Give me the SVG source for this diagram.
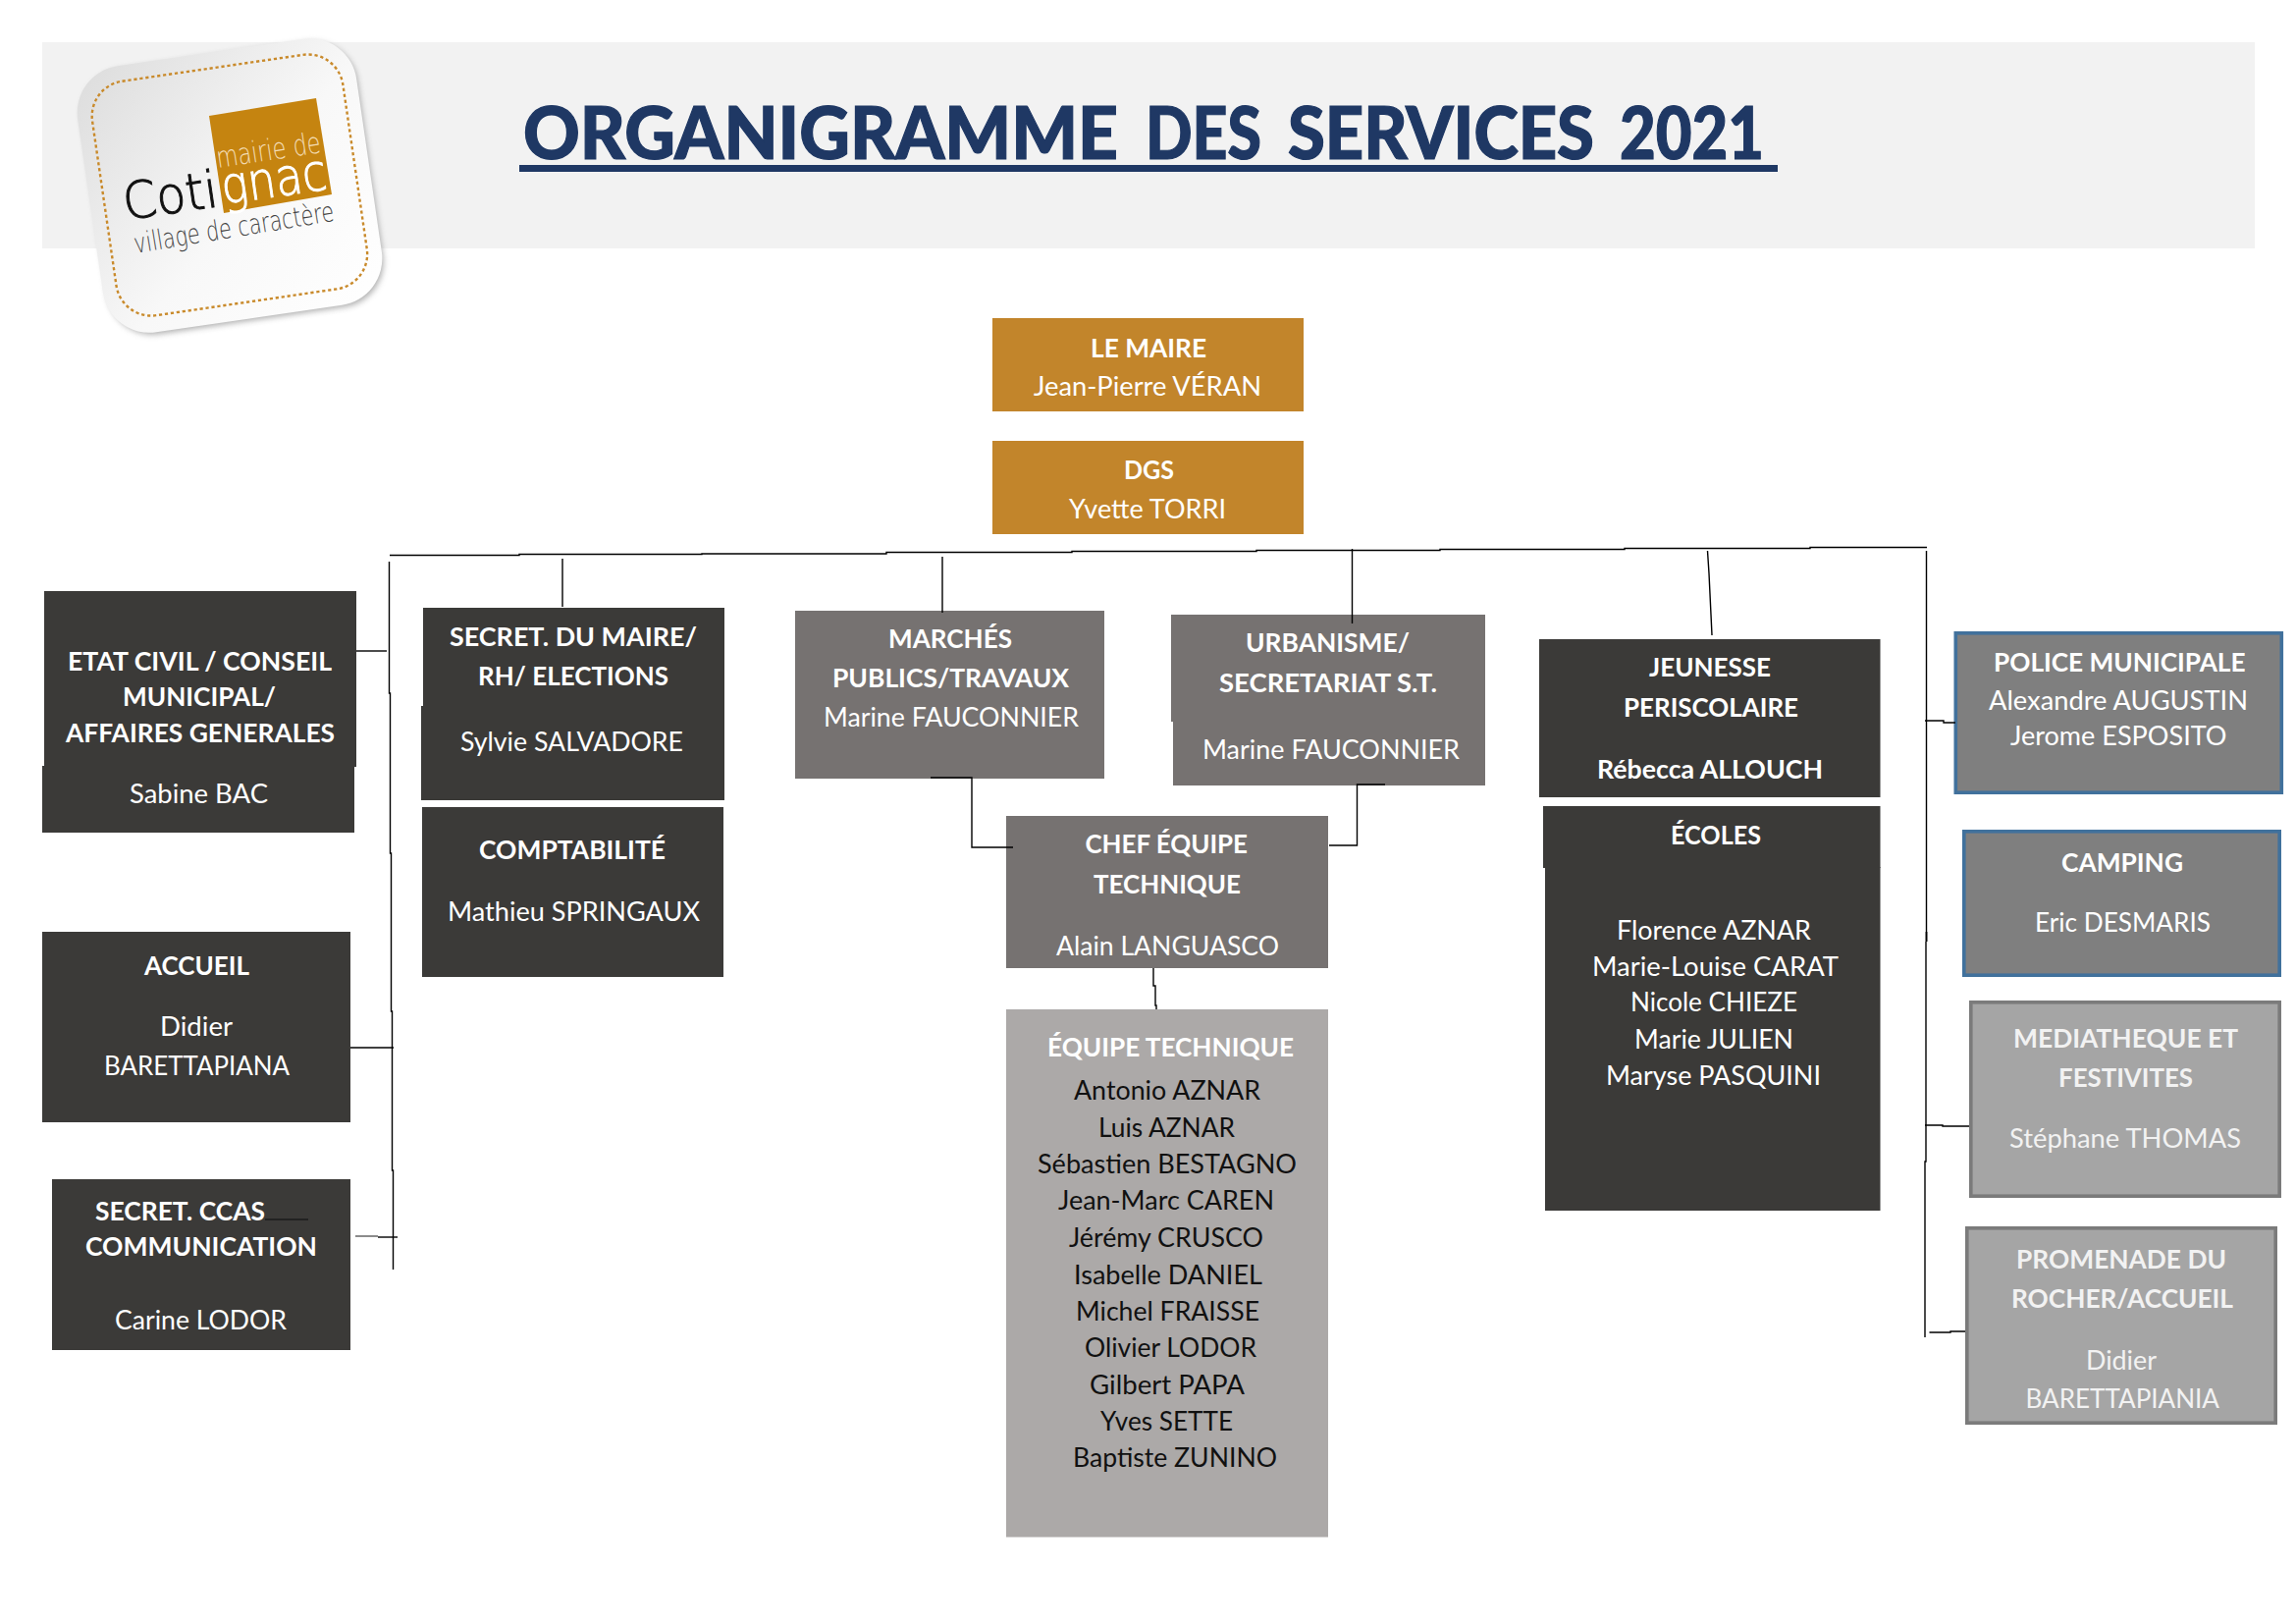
<svg xmlns="http://www.w3.org/2000/svg" width="2339" height="1654" viewBox="0 0 2339 1654">
<style>
text{font-family:"Lato","Carlito","Liberation Sans",sans-serif;font-size:26px;fill:#fff}
.b{font-weight:700}
.k{fill:#111}
.s{fill:#f2f2f2}
.dark{fill:#3b3a38}
.mid{fill:#767271}
.gold{fill:#c2852b}
.pale{fill:#aca9a8}
.blue{fill:#7f7f7f;stroke:#41719c;stroke-width:3.6}
.grey{fill:#a5a5a5;stroke:#7b7b7b;stroke-width:3.6}
.c{fill:none;stroke:#000;stroke-width:1.4}
.lg{font-family:"DejaVu Sans",sans-serif;font-weight:200}
</style>
<defs>
<linearGradient id="lg" x1="0" y1="0" x2="1" y2="1"><stop offset="0" stop-color="#dcdcdc"/><stop offset=".55" stop-color="#f8f8f8"/><stop offset="1" stop-color="#fff"/></linearGradient>
<filter id="sh" x="-20%" y="-20%" width="140%" height="140%"><feGaussianBlur stdDeviation="3"/></filter>
</defs>
<rect id="header" x="43" y="43" width="2254" height="210" fill="#f2f2f2"/>
<g id="logo">
<rect x="92" y="53" width="283" height="272" rx="46" transform="rotate(-8.3 234 189) translate(3 3)" fill="#666" opacity=".55" filter="url(#sh)"/>
<rect x="90.5" y="52" width="287" height="274" rx="48" transform="rotate(-8.3 234 189)" fill="url(#lg)"/>
<rect x="105" y="68" width="258" height="241" rx="36" transform="rotate(-8.3 234 189)" fill="none" stroke="#c98a2b" stroke-width="2.4" stroke-dasharray="3.2 2.8"/>
<polygon points="213,118 322,100 338,198 228,217" fill="#c58410"/>
<text class="lg" transform="translate(222 171) rotate(-8.5)" style="font-size:30px;fill:#f3dcb4" textLength="107" lengthAdjust="spacingAndGlyphs">mairie de</text>
<text class="lg" transform="translate(128 224) rotate(-8.3)" style="font-size:52px;fill:#111;stroke:#111;stroke-width:1" textLength="97" lengthAdjust="spacingAndGlyphs">Coti</text>
<text class="lg" transform="translate(228 208) rotate(-8.3)" style="font-size:52px;stroke:#fff;stroke-width:1" textLength="108" lengthAdjust="spacingAndGlyphs">gnac</text>
<text class="lg" transform="translate(138 258) rotate(-9.3)" style="font-size:28px;fill:#444" textLength="206" lengthAdjust="spacingAndGlyphs">village de caractère</text>
</g>
<g id="title">
<text y="162" style="font-size:74px;font-weight:900;fill:#1f3864;stroke:#1f3864;stroke-width:1.2"><tspan x="533" textLength="606" lengthAdjust="spacingAndGlyphs">ORGANIGRAMME</tspan> <tspan x="1167" textLength="118" lengthAdjust="spacingAndGlyphs">DES</tspan> <tspan x="1312" textLength="312" lengthAdjust="spacingAndGlyphs">SERVICES</tspan> <tspan x="1650" textLength="147" lengthAdjust="spacingAndGlyphs">2021</tspan></text>
<rect x="529" y="168" width="1282" height="7" fill="#1f3864"/>
</g>
<g id="chart" transform="translate(0 1)">
<g id="maire">
<rect class="gold" x="1011" y="323" width="317" height="95"/>
<text class="b" x="1111" y="363" textLength="118" lengthAdjust="spacingAndGlyphs">LE MAIRE</text>
<text x="1053" y="402" textLength="232" lengthAdjust="spacingAndGlyphs">Jean-Pierre VÉRAN</text>
</g>
<g id="dgs">
<rect class="gold" x="1011" y="448" width="317" height="95"/>
<text class="b" x="1145" y="487" textLength="51" lengthAdjust="spacingAndGlyphs">DGS</text>
<text x="1089" y="527" textLength="160" lengthAdjust="spacingAndGlyphs">Yvette TORRI</text>
</g>
<g id="etat-civil">
<rect class="dark" x="45" y="601" width="318" height="179"/>
<rect class="dark" x="43" y="779" width="318" height="68"/>
<text class="b" x="69" y="682" textLength="269" lengthAdjust="spacingAndGlyphs">ETAT CIVIL / CONSEIL</text>
<text class="b" x="125" y="718" textLength="156" lengthAdjust="spacingAndGlyphs">MUNICIPAL/</text>
<text class="b" x="67" y="755" textLength="274" lengthAdjust="spacingAndGlyphs">AFFAIRES GENERALES</text>
<text x="132" y="817" textLength="141" lengthAdjust="spacingAndGlyphs">Sabine BAC</text>
</g>
<g id="accueil">
<rect class="dark" x="43" y="948" width="314" height="194"/>
<text class="b" x="147" y="992" textLength="107" lengthAdjust="spacingAndGlyphs">ACCUEIL</text>
<text x="163" y="1054" textLength="74" lengthAdjust="spacingAndGlyphs">Didier</text>
<text x="106" y="1094" textLength="189" lengthAdjust="spacingAndGlyphs">BARETTAPIANA</text>
</g>
<g id="ccas">
<rect class="dark" x="53" y="1200" width="304" height="174"/>
<text class="b" x="97" y="1242" textLength="173" lengthAdjust="spacingAndGlyphs">SECRET. CCAS</text>
<text class="b" x="87" y="1278" textLength="236" lengthAdjust="spacingAndGlyphs">COMMUNICATION</text>
<text x="117" y="1353" textLength="175" lengthAdjust="spacingAndGlyphs">Carine LODOR</text>
</g>
<g id="secret-maire">
<rect class="dark" x="431" y="618" width="307" height="101"/>
<rect class="dark" x="429" y="718" width="309" height="96"/>
<text class="b" x="458" y="657" textLength="252" lengthAdjust="spacingAndGlyphs">SECRET. DU MAIRE/</text>
<text class="b" x="487" y="697" textLength="194" lengthAdjust="spacingAndGlyphs">RH/ ELECTIONS</text>
<text x="469" y="764" textLength="227" lengthAdjust="spacingAndGlyphs">Sylvie SALVADORE</text>
</g>
<g id="comptabilite">
<rect class="dark" x="430" y="821" width="307" height="173"/>
<text class="b" x="488" y="874" textLength="190" lengthAdjust="spacingAndGlyphs">COMPTABILITÉ</text>
<text x="456" y="937" textLength="257" lengthAdjust="spacingAndGlyphs">Mathieu SPRINGAUX</text>
</g>
<g id="marches">
<rect class="mid" x="810" y="621" width="315" height="171"/>
<text class="b" x="905" y="659" textLength="126" lengthAdjust="spacingAndGlyphs">MARCHÉS</text>
<text class="b" x="848" y="699" textLength="241" lengthAdjust="spacingAndGlyphs">PUBLICS/TRAVAUX</text>
<text x="839" y="739" textLength="260" lengthAdjust="spacingAndGlyphs">Marine FAUCONNIER</text>
</g>
<g id="urbanisme">
<rect class="mid" x="1193" y="625" width="320" height="109"/>
<rect class="mid" x="1195" y="733" width="318" height="66"/>
<text class="b" x="1269" y="663" textLength="167" lengthAdjust="spacingAndGlyphs">URBANISME/</text>
<text class="b" x="1242" y="704" textLength="222" lengthAdjust="spacingAndGlyphs">SECRETARIAT S.T.</text>
<text x="1225" y="772" textLength="262" lengthAdjust="spacingAndGlyphs">Marine FAUCONNIER</text>
</g>
<g id="chef-equipe">
<rect class="mid" x="1025" y="830" width="328" height="155"/>
<text class="b" x="1105.5" y="868" textLength="165.5" lengthAdjust="spacingAndGlyphs">CHEF ÉQUIPE</text>
<text class="b" x="1114" y="909" textLength="150" lengthAdjust="spacingAndGlyphs">TECHNIQUE</text>
<text x="1076" y="972" textLength="227" lengthAdjust="spacingAndGlyphs">Alain LANGUASCO</text>
</g>
<g id="equipe-technique">
<rect class="pale" x="1025" y="1027" width="328" height="537.5"/>
<text class="b" x="1067" y="1075" textLength="251" lengthAdjust="spacingAndGlyphs">ÉQUIPE TECHNIQUE</text>
<text class="k" x="1094" y="1119" textLength="190" lengthAdjust="spacingAndGlyphs">Antonio AZNAR</text>
<text class="k" x="1119" y="1157" textLength="139" lengthAdjust="spacingAndGlyphs">Luis AZNAR</text>
<text class="k" x="1057" y="1194" textLength="264" lengthAdjust="spacingAndGlyphs">Sébastien BESTAGNO</text>
<text class="k" x="1078" y="1231" textLength="220" lengthAdjust="spacingAndGlyphs">Jean-Marc CAREN</text>
<text class="k" x="1089" y="1269" textLength="198" lengthAdjust="spacingAndGlyphs">Jérémy CRUSCO</text>
<text class="k" x="1094" y="1306.5" textLength="192" lengthAdjust="spacingAndGlyphs">Isabelle DANIEL</text>
<text class="k" x="1096" y="1344" textLength="187" lengthAdjust="spacingAndGlyphs">Michel FRAISSE</text>
<text class="k" x="1105" y="1381" textLength="175" lengthAdjust="spacingAndGlyphs">Olivier LODOR</text>
<text class="k" x="1110" y="1419" textLength="158" lengthAdjust="spacingAndGlyphs">Gilbert PAPA</text>
<text class="k" x="1121" y="1455.5" textLength="135" lengthAdjust="spacingAndGlyphs">Yves SETTE</text>
<text class="k" x="1093" y="1493" textLength="208" lengthAdjust="spacingAndGlyphs">Baptiste ZUNINO</text>
</g>
<g id="jeunesse">
<rect class="dark" x="1568" y="650" width="347.5" height="161"/>
<text class="b" x="1680" y="688" textLength="124" lengthAdjust="spacingAndGlyphs">JEUNESSE</text>
<text class="b" x="1654" y="729" textLength="178" lengthAdjust="spacingAndGlyphs">PERISCOLAIRE</text>
<text class="b" x="1627" y="792" textLength="230" lengthAdjust="spacingAndGlyphs">Rébecca ALLOUCH</text>
</g>
<g id="ecoles">
<rect class="dark" x="1572" y="820" width="343.5" height="63"/>
<rect class="dark" x="1574" y="882" width="341.5" height="350"/>
<text class="b" x="1702" y="859" textLength="92" lengthAdjust="spacingAndGlyphs">ÉCOLES</text>
<text x="1647" y="956" textLength="198" lengthAdjust="spacingAndGlyphs">Florence AZNAR</text>
<text x="1622" y="993" textLength="251" lengthAdjust="spacingAndGlyphs">Marie-Louise CARAT</text>
<text x="1661" y="1029" textLength="170" lengthAdjust="spacingAndGlyphs">Nicole CHIEZE</text>
<text x="1665" y="1067" textLength="162" lengthAdjust="spacingAndGlyphs">Marie JULIEN</text>
<text x="1636" y="1104" textLength="219" lengthAdjust="spacingAndGlyphs">Maryse PASQUINI</text>
</g>
<g id="police">
<rect class="blue" x="1992.3" y="643.8" width="332" height="162.4"/>
<text class="b" x="2031" y="683" textLength="256.5" lengthAdjust="spacingAndGlyphs">POLICE MUNICIPALE</text>
<text x="2026" y="722" textLength="264" lengthAdjust="spacingAndGlyphs">Alexandre AUGUSTIN</text>
<text x="2048" y="758" textLength="220.5" lengthAdjust="spacingAndGlyphs">Jerome ESPOSITO</text>
</g>
<g id="camping">
<rect class="blue" x="2000.8" y="845.8" width="321.4" height="146.4"/>
<text class="b" x="2100" y="887" textLength="124" lengthAdjust="spacingAndGlyphs">CAMPING</text>
<text x="2073" y="948" textLength="179" lengthAdjust="spacingAndGlyphs">Eric DESMARIS</text>
</g>
<g id="mediatheque">
<rect class="grey" x="2007.8" y="1019.8" width="314.4" height="197.4"/>
<text class="b s" x="2051" y="1066" textLength="229" lengthAdjust="spacingAndGlyphs">MEDIATHEQUE ET</text>
<text class="b s" x="2097" y="1106" textLength="137" lengthAdjust="spacingAndGlyphs">FESTIVITES</text>
<text class="s" x="2047" y="1168" textLength="236" lengthAdjust="spacingAndGlyphs">Stéphane THOMAS</text>
</g>
<g id="promenade">
<rect class="grey" x="2003.8" y="1249.8" width="314.4" height="198.4"/>
<text class="b s" x="2054" y="1291" textLength="214" lengthAdjust="spacingAndGlyphs">PROMENADE DU</text>
<text class="b s" x="2049" y="1331" textLength="226" lengthAdjust="spacingAndGlyphs">ROCHER/ACCUEIL</text>
<text class="s" x="2125" y="1394" textLength="72" lengthAdjust="spacingAndGlyphs">Didier</text>
<text class="s" x="2063.5" y="1433" textLength="197.5" lengthAdjust="spacingAndGlyphs">BARETTAPIANIA</text>
</g>
<g id="connectors">
<path class="c" d="M397 564.5H529V563.5H715V563H903V561.5H1092V560.5H1280V559.5H1467V558.5H1655V557.5H1844V556.5H1963"/>
<path class="c" d="M396.5 571V705H397.5V868H398.5V1029H399.5V1191H400.5V1292"/>
<path class="c" d="M363 662H394"/>
<path class="c" d="M357 1066H401"/>
<path class="c" d="M362 1258H385" stroke-opacity=".45" style="stroke-width:2"/>
<path class="c" d="M385 1259H405"/>
<path class="c" d="M270 1241H314" style="stroke:#222;stroke-width:2"/>
<path class="c" d="M573 568V617"/>
<path class="c" d="M960 566V623"/>
<path class="c" d="M1377.5 558V634"/>
<path class="c" d="M1739.5 560L1741 583L1743 625L1744 646"/>
<path class="c" d="M948 791H990V862H1032"/>
<path class="c" d="M1411 798H1382.5V860H1354"/>
<path class="c" d="M1175 985V1003H1177V1023H1178V1027"/>
<path class="c" d="M1962.5 560V948"/>
<path class="c" d="M1962.5 948V958" style="stroke-width:2"/>
<path class="c" d="M1962 958V1182H1961V1361"/>
<path class="c" d="M1961 733H1980V735H1992"/>
<path class="c" d="M1961 1145H1979V1146H2006"/>
<path class="c" d="M1965.5 1356H1987V1355H2002"/>
</g>
</g>
</svg>
